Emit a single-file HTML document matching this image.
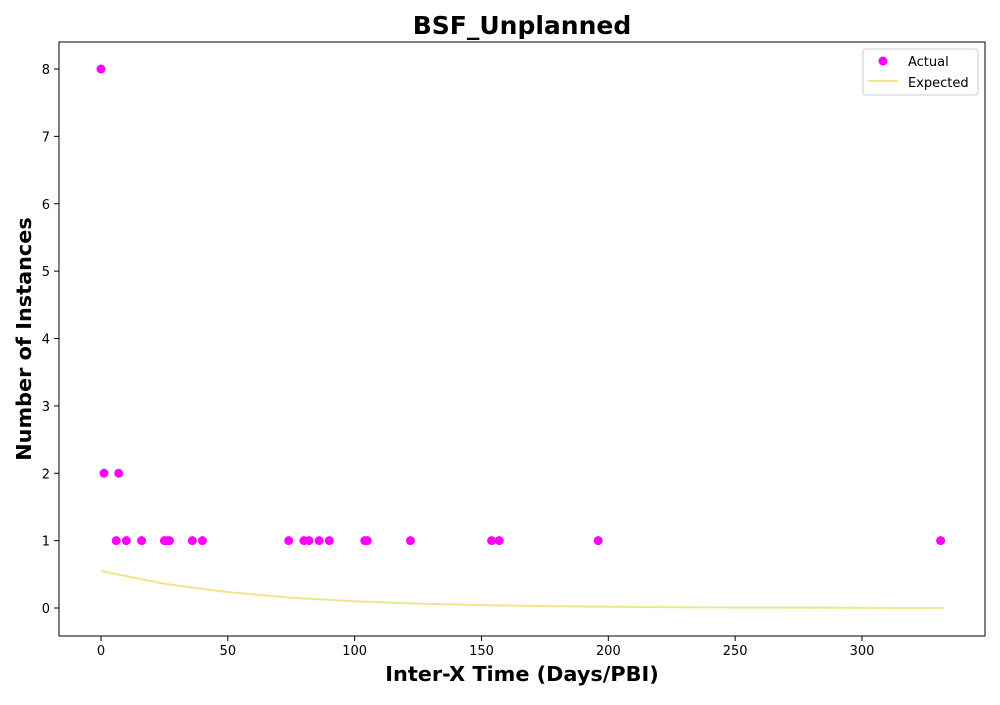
<!DOCTYPE html>
<html><head><meta charset="utf-8"><style>
body{margin:0;background:#fff;font-family:"Liberation Sans","DejaVu Sans",sans-serif;}
svg text{font-family:"DejaVu Sans","Liberation Sans",sans-serif;}
</style></head><body>
<svg id="chart" width="1000" height="700"></svg>
<script>
const actualX=[0,1.2,6,7,10,16,25,26,27,36,40,74,80,82,86,90,104,105,122,154,157,196,331];
const actualY=[8,2,1,2,1,1,1,1,1,1,1,1,1,1,1,1,1,1,1,1,1,1,1];
const expectedX=[0,25,50,75,100,125,150,175,200,225,250,275,300,332];
const expectedY=[0.55,0.36,0.235,0.153,0.1,0.065,0.043,0.028,0.018,0.012,0.008,0.005,0.003,0.002];
const xTicks=[0,50,100,150,200,250,300];
const yTicks=[0,1,2,3,4,5,6,7,8];

const NS="http://www.w3.org/2000/svg";
const svg=document.getElementById('chart');
const L=59,R=985,T=42,B=636;
const sx=v=>101+v*(862-101)/300;
const sy=v=>608-v*(608-69)/8;
function mk(tag,attrs,parent){const e=document.createElementNS(NS,tag);for(const k in attrs)e.setAttribute(k,attrs[k]);(parent||svg).appendChild(e);return e;}
function txt(s,attrs){const e=mk('text',attrs);e.textContent=s;return e;}

const frame=mk('rect',{x:L,y:T,width:R-L,height:B-T,fill:'none',stroke:'#000','stroke-width':1});



xTicks.forEach(v=>{
  const l=mk('line',{x1:sx(v),x2:sx(v),y1:B,y2:B+5,stroke:'#000'});
  
  
  const t=txt(String(v),{x:sx(v),y:B+19,'text-anchor':'middle','font-size':13});
  
  
});
yTicks.forEach(v=>{
  const l=mk('line',{x1:L-5,x2:L,y1:sy(v),y2:sy(v),stroke:'#000'});
  
  
  const t=txt(String(v),{x:L-9,y:sy(v)+5,'text-anchor':'end','font-size':13});
  
  
});

const pts=expectedX.map((x,i)=>sx(x)+','+sy(expectedY[i])).join(' ');
const line=mk('polyline',{points:pts,fill:'none',stroke:'#f0e68c','stroke-width':2});



actualX.forEach((x,i)=>{
  const c=mk('circle',{cx:sx(x),cy:sy(actualY[i]),r:4.5,fill:'#ff00ff'});
  
  
});

const title=txt('BSF_Unplanned',{x:522,y:34,'text-anchor':'middle','font-size':25,'font-weight':'bold'});


const xt=txt('Inter-X Time (Days/PBI)',{x:522,y:681,'text-anchor':'middle','font-size':20.8,'font-weight':'bold'});


const yt=txt('Number of Instances',{x:0,y:0,'text-anchor':'middle','font-size':20.8,'font-weight':'bold',transform:'translate(31,339) rotate(-90)'});



const lg=mk('g',{});


mk('rect',{x:863,y:49,width:115,height:46,rx:3,fill:'#fff',stroke:'#ccc'},lg);
const lp=mk('circle',{cx:883,cy:61,r:4.5,fill:'#ff00ff'},lg);


mk('line',{x1:868,x2:898,y1:81,y2:81,stroke:'#f0e68c','stroke-width':2},lg);
const t1=mk('text',{x:908,y:66,'font-size':13},lg);t1.textContent='Actual';


const t2=mk('text',{x:908,y:87,'font-size':13},lg);t2.textContent='Expected';


</script>
</body></html>
